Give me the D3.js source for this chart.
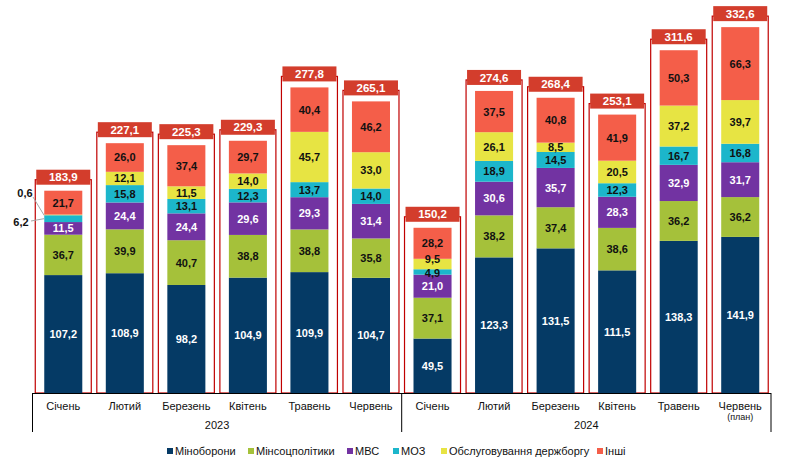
<!DOCTYPE html>
<html><head><meta charset="utf-8">
<script src="https://cdn.jsdelivr.net/npm/d3@7"></script>
<style>body{margin:0;background:#fff}svg{display:block;font-family:"Liberation Sans",Arial,sans-serif}</style>
</head><body><svg id="c" width="794" height="464"></svg>
<script>
const months = ["Січень","Лютий","Березень","Квітень","Травень","Червень","Січень","Лютий","Березень","Квітень","Травень","Червень"];
const years = ["2023","2024"];
const seriesNames = ["Міноборони","Мінсоцполітики","МВС","МОЗ","Обслуговування держборгу","Інші"];
const minoborony = [107.2,108.9,98.2,104.9,109.9,104.7,49.5,123.3,131.5,111.5,138.3,141.9];
const minsoc =     [36.7,39.9,40.7,38.8,38.8,35.8,37.1,38.2,37.4,38.6,36.2,36.2];
const mvs =        [11.5,24.4,24.4,29.6,29.3,31.4,21.0,30.6,35.7,28.3,32.9,31.7];
const moz =        [6.2,15.8,13.1,12.3,13.7,14.0,4.9,18.9,14.5,12.3,16.7,16.8];
const debt =       [0.6,12.1,11.5,14.0,45.7,33.0,9.5,26.1,8.5,20.5,37.2,39.7];
const other =      [21.7,26.0,37.4,29.7,40.4,46.2,28.2,37.5,40.8,41.9,50.3,66.3];
const totals =     [183.9,227.1,225.3,229.3,277.8,265.1,150.2,274.6,268.4,253.1,311.6,332.6];

const colors = ["#053a65","#a5c13a","#7233a2","#1cb6cb","#e7e443","#f45e49"];
const textColors = ["#fff","#111","#fff","#111","#111","#111"];
const series = [minoborony,minsoc,mvs,moz,debt,other];
const fmt = v => v.toFixed(1).replace(".", ",");

const svg = d3.select("#c");
const x = d3.scaleBand().domain(d3.range(12)).range([32.5,771]).paddingInner(0.382).paddingOuter(0.191);
const y = d3.scaleLinear().domain([0,357.27]).range([393,0]);
const cx = i => x(i) + x.bandwidth()/2;

// total outlines
svg.append("g").selectAll("rect").data(totals).join("rect")
  .attr("x",(d,i)=>cx(i)-28).attr("width",56)
  .attr("y",d=>y(d)-11).attr("height",d=>393-(y(d)-11))
  .attr("fill","none").attr("stroke","#c00000").attr("stroke-width",1.2);

// stacked bars
const rows = d3.range(12).map(i => { const o = {}; series.forEach((s,k)=>o[k]=s[i]); return o; });
const stack = d3.stack().keys(d3.range(6))(rows);
const gBars = svg.append("g");
stack.forEach((layer,k) => {
  gBars.append("g").selectAll("rect").data(layer).join("rect")
    .attr("x",(d,i)=>x(i)).attr("width",x.bandwidth())
    .attr("y",d=>y(d[1])).attr("height",d=>y(d[0])-y(d[1]))
    .attr("fill",colors[k]);
});
// small label nudges where thin segments crowd (Jan 2024)
const nudge = (k,i) => (i===6 && k===4) ? -4.5 : (i===6 && k===3) ? 1 : 0;
stack.forEach((layer,k) => {
  gBars.append("g").selectAll("text").data(layer.map((d,i)=>({d,i})).filter(o=>!(o.i===0 && (k===3||k===4))))
    .join("text")
    .attr("x",o=>cx(o.i)).attr("y",o=>(y(o.d[0])+y(o.d[1]))/2 + nudge(k,o.i))
    .attr("dy","0.36em").attr("text-anchor","middle")
    .attr("font-size",11).attr("font-weight","bold").attr("fill",textColors[k])
    .text(o=>fmt(series[k][o.i]));
});
// callouts for Jan 2023
const s0 = stack[4][0], s3 = stack[3][0];
const bx = x(0);
svg.append("line").attr("x1",33).attr("y1",197).attr("x2",bx).attr("y2",y(s0[0])+0.3).attr("stroke","#a6a6a6");
svg.append("line").attr("x1",31).attr("y1",221).attr("x2",bx).attr("y2",(y(s3[0])+y(s3[1]))/2).attr("stroke","#a6a6a6");
svg.append("text").attr("x",25).attr("y",193).attr("dy","0.36em").attr("text-anchor","middle")
  .attr("font-size",11).attr("font-weight","bold").attr("fill","#111").text(fmt(debt[0]));
svg.append("text").attr("x",21).attr("y",222).attr("dy","0.36em").attr("text-anchor","middle")
  .attr("font-size",11).attr("font-weight","bold").attr("fill","#111").text(fmt(moz[0]));

// total label boxes
const gT = svg.append("g");
totals.forEach((t,i) => {
  const yc = y(t) - 13.5;
  gT.append("rect").attr("x",cx(i)-27).attr("width",54).attr("y",yc-7.5).attr("height",15).attr("fill","#d33d2c");
  gT.append("text").attr("x",cx(i)).attr("y",yc).attr("dy","0.36em").attr("text-anchor","middle")
    .attr("font-size",11.5).attr("font-weight","bold").attr("fill","#fff").text(fmt(t));
});

// axis
svg.append("line").attr("x1",32.5).attr("x2",771).attr("y1",393.5).attr("y2",393.5).attr("stroke","#000");
[32.5, 401.7, 771].forEach(v => svg.append("line").attr("x1",v).attr("x2",v).attr("y1",393).attr("y2",432).attr("stroke","#000"));
svg.append("g").selectAll("text").data(months).join("text")
  .attr("x",(d,i)=>cx(i)).attr("y",406).attr("dy","0.36em").attr("text-anchor","middle")
  .attr("font-size",11).attr("fill","#111").text(d=>d);
svg.append("text").attr("x",cx(11)).attr("y",417).attr("dy","0.36em").attr("text-anchor","middle")
  .attr("font-size",9).attr("fill","#111").text("(план)");
svg.append("g").selectAll("text").data(years).join("text")
  .attr("x",(d,i)=>i===0?(32.5+401.7)/2:(401.7+771)/2).attr("y",425).attr("dy","0.36em").attr("text-anchor","middle")
  .attr("font-size",11).attr("fill","#111").text(d=>d);

// legend
const legX = [167,248,347,393,441,597];
const gL = svg.append("g");
seriesNames.forEach((n,k) => {
  gL.append("rect").attr("x",legX[k]).attr("y",448).attr("width",6).attr("height",6).attr("fill",colors[k]);
  gL.append("text").attr("x",legX[k]+8).attr("y",451).attr("dy","0.36em").attr("font-size",11).attr("fill","#111").text(n);
});
</script></body></html>
